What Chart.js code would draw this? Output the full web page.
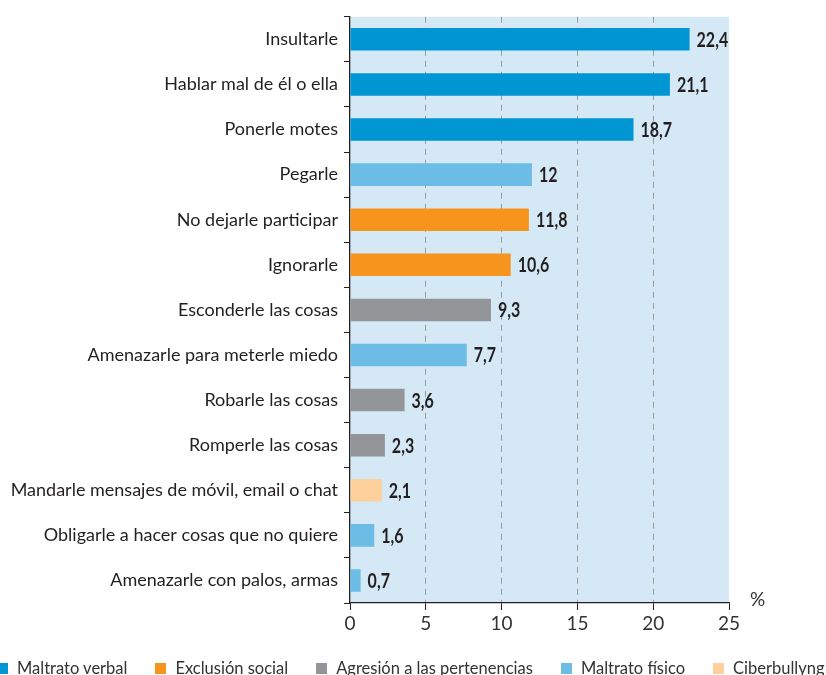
<!DOCTYPE html>
<html>
<head>
<meta charset="utf-8">
<script src="https://cdn.jsdelivr.net/npm/chart.js@4.4.0/dist/chart.umd.min.js"></script>
<style>
    body { margin: 0; background: #fff; }
    #wrap { position: relative; width: 826px; height: 675px; overflow: hidden; }
    #chart { position: absolute; left: 0; top: 0; }
    #legend {
        position: absolute; left: -3px; top: 658px;
        display: flex; gap: 28px; white-space: nowrap;
        font-family: Lato, sans-serif; font-size: 16.5px; color: #333;
    }
    .item { display: flex; align-items: center; }
    .sw { width: 11px; height: 11px; margin-right: 9px; }
</style>
</head>
<body>
<div id="wrap">
    <canvas id="chart" width="826" height="675"></canvas>
    <div id="legend"></div>
</div>
<script>
// === Datos ===
const categories = [
    'Insultarle',
    'Hablar mal de él o ella',
    'Ponerle motes',
    'Pegarle',
    'No dejarle participar',
    'Ignorarle',
    'Esconderle las cosas',
    'Amenazarle para meterle miedo',
    'Robarle las cosas',
    'Romperle las cosas',
    'Mandarle mensajes de móvil, email o chat',
    'Obligarle a hacer cosas que no quiere',
    'Amenazarle con palos, armas'
];
const values = [22.4, 21.1, 18.7, 12, 11.8, 10.6, 9.3, 7.7, 3.6, 2.3, 2.1, 1.6, 0.7];
// índice del grupo de cada barra
const groupOf = [0, 0, 0, 3, 1, 1, 2, 3, 2, 2, 4, 3, 3];
const groupNames = ['Maltrato verbal', 'Exclusión social', 'Agresión a las pertenencias', 'Maltrato físico', 'Ciberbullyng'];
const groupColors = ['#0095d3', '#f7941d', '#939598', '#6bbde6', '#fdd09c'];
const xMin = 0, xMax = 25, xStep = 5;

const darkColor = '#231f20';
const plotBg = '#d4e8f5';

Chart.defaults.font.family = 'Lato, sans-serif';

// fondo del área de gráfico
const plotBackground = {
    id: 'plotBackground',
    beforeDraw(chart) {
        const { ctx, chartArea: a } = chart;
        ctx.save();
        ctx.fillStyle = plotBg;
        ctx.fillRect(a.left, a.top, a.right - a.left, a.bottom - a.top);
        ctx.restore();
    }
};

// etiquetas de valor al final de cada barra + símbolo %
const valueLabels = {
    id: 'valueLabels',
    afterDatasetsDraw(chart) {
        const { ctx, chartArea: a } = chart;
        const meta = chart.getDatasetMeta(0);
        ctx.save();
        ctx.fillStyle = darkColor;
        ctx.font = 'bold 20px Lato, sans-serif';
        ctx.textBaseline = 'middle';
        ctx.textAlign = 'left';
        meta.data.forEach((bar, i) => {
            // letra condensada como en el original
            ctx.save();
            ctx.translate(bar.x + 7, bar.y + 1);
            ctx.scale(0.8, 1);
            ctx.fillText(String(values[i]).replace('.', ','), 0, 0);
            ctx.restore();
        });
        ctx.font = '19px Lato, sans-serif';
        ctx.fillStyle = '#333';
        ctx.fillText('%', a.right + 21, a.bottom - 3);
        ctx.restore();
    }
};

new Chart(document.getElementById('chart'), {
    type: 'bar',
    data: {
        labels: categories,
        datasets: [{
            data: values,
            backgroundColor: groupOf.map(g => groupColors[g]),
            barPercentage: 1,
            categoryPercentage: 0.5
        }]
    },
    options: {
        indexAxis: 'y',
        responsive: false,
        animation: false,
        layout: { padding: { top: 15, right: 97, left: 0, bottom: 0 } },
        plugins: { legend: { display: false }, tooltip: { enabled: false } },
        scales: {
            x: {
                min: xMin, max: xMax,
                ticks: { stepSize: xStep, color: '#333', font: { size: 19 }, padding: 2 },
                grid: {
                    color: c => (c.tick && (c.tick.value === xMin || c.tick.value === xMax)) ? 'rgba(0,0,0,0)' : '#9b9b9b',
                    lineWidth: 1,
                    tickColor: darkColor,
                    tickLength: 7
                },
                border: { display: true, color: darkColor, width: 1.3, dash: [6, 5] },
                afterFit: s => { s.height = 72; }
            },
            y: {
                ticks: { color: darkColor, font: { size: 18 }, padding: 6 },
                grid: { drawOnChartArea: false, drawTicks: true, tickLength: 6, tickColor: darkColor, color: darkColor },
                border: { display: true, color: darkColor, width: 1.3 },
                afterFit: s => { s.width = 350; }
            }
        }
    },
    plugins: [plotBackground, valueLabels]
});

// === Leyenda ===
const legend = document.getElementById('legend');
groupNames.forEach((name, i) => {
    const item = document.createElement('div');
    item.className = 'item';
    item.innerHTML = `<span class="sw" style="background:${groupColors[i]}"></span><span>${name}</span>`;
    legend.appendChild(item);
});
</script>
</body>
</html>
